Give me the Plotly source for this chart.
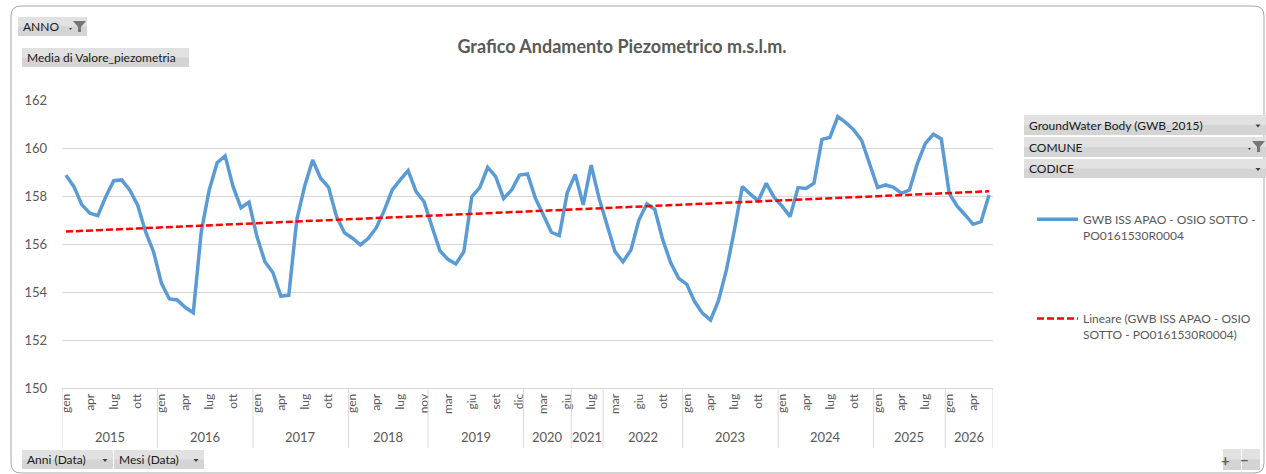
import numpy as np
import plotly.graph_objects as go

# dati: media di Valore_piezometria per mese (m s.l.m.)
anni = [2015, 2016, 2017, 2018, 2019, 2020, 2021, 2022, 2023, 2024, 2025, 2026]

TUTTI = ["gen", "feb", "mar", "apr", "mag", "giu", "lug", "ago", "set", "ott", "nov", "dic"]
mesi_anno = [
    TUTTI,
    TUTTI,
    TUTTI,
    ["gen", "feb", "mar", "apr", "mag", "giu", "lug", "set", "ott", "nov"],
    TUTTI,
    ["gen", "feb", "mar", "apr", "mag", "giu"],
    ["mag", "giu", "lug", "ott"],
    ["gen", "mar", "apr", "mag", "giu", "lug", "set", "ott", "nov", "dic"],
    TUTTI,
    TUTTI,
    ["gen", "feb", "mar", "apr", "mag", "giu", "lug", "ago", "set"],
    ["gen", "feb", "mar", "apr", "mag", "giu"],
]

valori_anno = [
    [158.87, 158.39, 157.63, 157.28, 157.18, 157.97, 158.64, 158.67, 158.25, 157.63, 156.51, 155.68],
    [154.36, 153.71, 153.67, 153.35, 153.14, 156.51, 158.25, 159.39, 159.67, 158.39, 157.51, 157.74],
    [156.31, 155.26, 154.81, 153.83, 153.86, 157.00, 158.42, 159.50, 158.74, 158.36, 157.14, 156.47],
    [156.24, 155.96, 156.24, 156.68, 157.40, 158.25, 158.67, 159.06, 158.18, 157.76],
    [156.72, 155.72, 155.36, 155.17, 155.68, 157.97, 158.35, 159.19, 158.81, 157.90, 158.25, 158.87],
    [158.92, 157.90, 157.21, 156.49, 156.35, 158.14],
    [158.90, 157.63, 159.29, 157.90],
    [156.79, 155.68, 155.26, 155.75, 157.00, 157.67, 157.44, 156.17, 155.22, 154.57],
    [154.33, 153.60, 153.11, 152.83, 153.64, 154.92, 156.58, 158.39, 158.08, 157.80, 158.53, 157.94],
    [157.58, 157.14, 158.35, 158.31, 158.53, 160.36, 160.44, 161.31, 161.06, 160.75, 160.31, 159.29],
    [158.35, 158.46, 158.36, 158.11, 158.25, 159.36, 160.19, 160.57, 160.38],
    [158.11, 157.58, 157.21, 156.82, 156.93, 158.04],
]

nome_serie = "GWB ISS APAO - OSIO SOTTO -<br>PO0161530R0004"
nome_trend = "Lineare (GWB ISS APAO - OSIO<br>SOTTO - PO0161530R0004)"

# categorie in sequenza (asse a categorie come in Excel)
mesi = [m for gruppo in mesi_anno for m in gruppo]
valori = [v for gruppo in valori_anno for v in gruppo]
idx = np.arange(len(valori))
coef = np.polyfit(idx, valori, 1)
trend = np.polyval(coef, idx)

W, H = 1266, 474
L, R, T, B = 62, 993, 100, 388
GRIGIO = "#595959"
FONT = "Lato"


def px(x):
    return (x - L) / (R - L)


def py(y):
    return (B - y) / (B - T)


fig = go.Figure()
fig.add_trace(go.Scatter(
    x=idx, y=valori, mode="lines", name=nome_serie,
    line=dict(color="#5b9bd5", width=3.5),
    legendgroup="a",
))
fig.add_trace(go.Scatter(
    x=idx, y=trend, mode="lines", name=nome_trend,
    line=dict(color="#ff0000", width=2.5, dash="7px,3px"),
    legendgroup="b",
))

shapes = []
annotations = []

# divisori e etichette anni sotto l'asse
start = 0
for anno, gruppo in zip(anni, mesi_anno):
    end = start + len(gruppo)
    shapes.append(dict(type="line", xref="x", yref="paper",
                       x0=start - 0.5, x1=start - 0.5, y0=0, y1=py(448),
                       line=dict(color="#d9d9d9", width=1)))
    annotations.append(dict(x=(start + end - 1) / 2, y=py(437), xref="x", yref="paper",
                            text=str(anno), showarrow=False, yanchor="middle",
                            font=dict(size=13, color=GRIGIO, family=FONT)))
    start = end
shapes.append(dict(type="line", xref="x", yref="paper",
                   x0=start - 0.5, x1=start - 0.5, y0=0, y1=py(448),
                   line=dict(color="#d9d9d9", width=1)))

# cornice arrotondata del grafico
x0, y0, x1, y1, r = 11, 6, 1264, 473, 10
cornice = (f"M {px(x0)},{py(y0 + r)} Q {px(x0)},{py(y0)} {px(x0 + r)},{py(y0)} "
           f"L {px(x1 - r)},{py(y0)} Q {px(x1)},{py(y0)} {px(x1)},{py(y0 + r)} "
           f"L {px(x1)},{py(y1 - r)} Q {px(x1)},{py(y1)} {px(x1 - r)},{py(y1)} "
           f"L {px(x0 + r)},{py(y1)} Q {px(x0)},{py(y1)} {px(x0)},{py(y1 - r)} Z")
shapes.append(dict(type="path", xref="paper", yref="paper", path=cornice,
                   line=dict(color="#a6a6a6", width=1), layer="below"))


def pulsante(xa, ya, xb, yb, testo, freccia=False, filtro=False, size=12):
    shapes.append(dict(type="rect", xref="paper", yref="paper",
                       x0=px(xa), x1=px(xb), y0=py(ya), y1=py(yb),
                       fillcolor="#d4d4d4", line=dict(width=0)))
    shapes.append(dict(type="rect", xref="paper", yref="paper",
                       x0=px(xa), x1=px(xb), y0=py(ya), y1=py(ya + (yb - ya) * 0.5),
                       fillcolor="#e1e1e1", line=dict(width=0)))
    annotations.append(dict(x=px(xa + 3), y=py((ya + yb) / 2), xref="paper", yref="paper",
                            text=testo, showarrow=False, xanchor="left", yanchor="middle",
                            font=dict(size=size, color="#1a1a1a", family=FONT)))
    if freccia:
        xc, yc = xb - 8, (ya + yb) / 2 + 1
        shapes.append(dict(type="path", xref="paper", yref="paper",
                           path=f"M {px(xc - 2.5)},{py(yc - 1.5)} L {px(xc + 2.5)},{py(yc - 1.5)} "
                                f"L {px(xc)},{py(yc + 1.5)} Z",
                           fillcolor="#404040", line=dict(width=0)))
    if filtro:
        xf, yf = xb - 14, ya + 4
        shapes.append(dict(type="path", xref="paper", yref="paper",
                           path=f"M {px(xf)},{py(yf)} L {px(xf + 13)},{py(yf)} L {px(xf + 8)},{py(yf + 6)} "
                                f"L {px(xf + 8)},{py(yf + 11)} L {px(xf + 5)},{py(yf + 11)} "
                                f"L {px(xf + 5)},{py(yf + 6)} Z",
                           fillcolor="#767676", line=dict(width=0)))
        shapes.append(dict(type="path", xref="paper", yref="paper",
                           path=f"M {px(xf - 4)},{py(yf + 7)} L {px(xf - 1)},{py(yf + 7)} "
                                f"L {px(xf - 2.5)},{py(yf + 9)} Z",
                           fillcolor="#404040", line=dict(width=0)))


pulsante(18, 17, 87, 36, "ANNO", filtro=True)
pulsante(22, 48, 189, 67, "Media di Valore_piezometria")
pulsante(1024, 115, 1266, 135, "GroundWater Body (GWB_2015)", freccia=True)
pulsante(1024, 137, 1266, 157, "COMUNE", filtro=True)
pulsante(1024, 159, 1266, 178, "CODICE", freccia=True)
pulsante(22, 450, 113, 469, "Anni (Data)", freccia=True)
pulsante(114, 450, 204, 469, "Mesi (Data)", freccia=True)
pulsante(1223, 449, 1241, 470, "")
pulsante(1242, 449, 1260, 470, "")
annotations.append(dict(x=px(1232), y=py(459.5), xref="paper", yref="paper", text="<b>+</b>",
                        showarrow=False, yanchor="middle",
                        font=dict(size=15, color="#606060", family=FONT)))
annotations.append(dict(x=px(1251), y=py(459.5), xref="paper", yref="paper", text="<b>−</b>",
                        showarrow=False, yanchor="middle",
                        font=dict(size=15, color="#606060", family=FONT)))

tick_idx = [i for i in idx if i % 3 == 0]

fig.update_layout(
    width=W, height=H, autosize=False,
    margin=dict(l=L, r=W - R, t=T, b=H - B, autoexpand=False),
    paper_bgcolor="white", plot_bgcolor="white",
    font=dict(family=FONT, color=GRIGIO),
    title=dict(text="<b>Grafico Andamento Piezometrico m.s.l.m.</b>",
               x=622 / W, xanchor="center", y=1 - 47 / H, yanchor="middle",
               font=dict(size=18, color=GRIGIO, family=FONT)),
    xaxis=dict(range=[-0.5, len(valori) - 0.5], tickmode="array",
               tickvals=tick_idx, ticktext=[mesi[i] for i in tick_idx],
               tickangle=-90, tickfont=dict(size=12, color=GRIGIO),
               showgrid=False, zeroline=False, showline=True,
               linecolor="#d9d9d9", ticks="", automargin=False),
    yaxis=dict(range=[150, 162], dtick=2, showgrid=True, gridcolor="#d9d9d9",
               zeroline=False, ticks="", ticklabelstandoff=14,
               tickfont=dict(size=13, color=GRIGIO), automargin=False),
    legend=dict(x=px(1032), xanchor="left", y=py(205), yanchor="top",
                tracegroupgap=65, valign="top", itemwidth=41,
                bgcolor="rgba(0,0,0,0)",
                font=dict(size=12, color=GRIGIO, family=FONT)),
    shapes=shapes,
    annotations=annotations,
)

# la pagina non deve avere il margine di default del body
fig.write_html(
    "out.html",
    config={"responsive": False, "displayModeBar": False},
    post_script="document.body.style.margin='0';document.body.style.overflow='hidden';",
)
